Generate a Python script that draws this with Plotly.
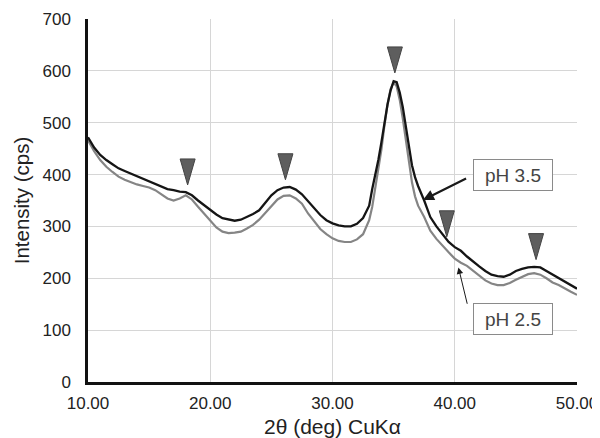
import plotly.graph_objects as go

# 2theta (deg) and intensity (cps)
two_theta = [10.0, 10.5, 11.0, 11.5, 12.0, 12.5, 13.0, 13.5, 14.0, 14.5,
             15.0, 15.5, 16.0, 16.5, 17.0, 17.5, 18.0, 18.5, 19.0, 19.5,
             20.0, 20.5, 21.0, 21.5, 22.0, 22.5, 23.0, 23.5, 24.0, 24.5,
             25.0, 25.5, 26.0, 26.5, 27.0, 27.5, 28.0, 28.5, 29.0, 29.5,
             30.0, 30.5, 31.0, 31.5, 32.0, 32.5, 33.0, 33.25, 33.5, 33.75,
             34.0, 34.25, 34.5, 34.75, 35.0, 35.25, 35.5, 35.75, 36.0, 36.25,
             36.5, 36.75, 37.0, 37.5, 38.0, 38.5, 39.0, 39.5, 40.0, 40.5,
             41.0, 41.5, 42.0, 42.5, 43.0, 43.5, 44.0, 44.5, 45.0, 45.5,
             46.0, 46.5, 47.0, 47.5, 48.0, 48.5, 49.0, 49.5, 50.0]

ph35 = [472, 452, 438, 428, 420, 412, 407, 402, 397, 392,
        387, 383, 377, 372, 370, 367, 366, 360, 350, 341,
        332, 323, 316, 313, 311, 313, 318, 324, 331, 345,
        360, 370, 375, 376, 371, 362, 348, 335, 322, 312,
        306, 302, 300, 300, 305, 316, 340, 372, 398, 428,
        462, 503, 535, 562, 580, 578, 558, 530, 493, 450,
        418, 395, 378, 350, 318, 300, 285, 270, 260, 253,
        242, 232, 223, 214, 207, 204, 203, 207, 214, 218,
        221, 222, 221, 214, 207, 201, 194, 187, 180]

ph25 = [466, 445, 428, 415, 405, 396, 390, 385, 381, 378,
        375, 370, 362, 354, 350, 354, 360, 352, 338, 325,
        310, 298, 290, 287, 288, 290, 296, 303, 313, 326,
        340, 352, 359, 360, 354, 344, 325, 310, 295, 285,
        277, 272, 270, 270, 275, 285, 312, 338, 372, 410,
        448, 495, 535, 565, 578, 570, 544, 508, 465, 420,
        385, 358, 340, 318, 292, 276, 262, 250, 238, 230,
        224, 215, 205, 196, 190, 187, 187, 191, 197, 203,
        208, 210, 207, 200, 192, 187, 180, 174, 168]

# peak markers (tip position)
peak_x = [18.15, 26.15, 35.1, 39.35, 46.65]
peak_y = [380, 390, 596, 280, 236]

# label boxes: text, box centre, arrow tail, arrow head
labels = ["pH 3.5", "pH 2.5"]
label_x = [44.8, 44.8]
label_y = [399, 121]
tail_x = [41.05, 41.05]
tail_y = [394, 148]
head_x = [37.4, 40.3]
head_y = [351, 221]

x_ticks = [10, 20, 30, 40, 50]

fig = go.Figure()
fig.add_trace(go.Scatter(x=two_theta, y=ph25, mode="lines", name="pH 2.5",
                         line=dict(color="#858585", width=2.2)))
fig.add_trace(go.Scatter(x=two_theta, y=ph35, mode="lines", name="pH 3.5",
                         line=dict(color="#151515", width=2.3)))

# downward triangles above the peaks
for px_, py_ in zip(peak_x, peak_y):
    fig.add_shape(type="path", xref="x", yref="y",
                  xsizemode="pixel", ysizemode="pixel",
                  xanchor=px_, yanchor=py_,
                  path="M-7.5,26 L7.5,26 L0,0 Z",
                  fillcolor="#5e5e5e", line=dict(color="#444444", width=1))

# arrows (thick for pH 3.5, thin for pH 2.5), then boxes on top
arrow_w = [2.2, 1]
arrow_s = [1, 1.3]
for i in range(2):
    fig.add_annotation(x=head_x[i], y=head_y[i], ax=tail_x[i], ay=tail_y[i],
                       axref="x", ayref="y", text="", showarrow=True,
                       arrowhead=2, arrowsize=arrow_s[i], arrowwidth=arrow_w[i],
                       arrowcolor="#1a1a1a")
    fig.add_annotation(x=label_x[i], y=label_y[i], text=labels[i],
                       showarrow=False,
                       font=dict(size=19, color="#444444"),
                       width=70, height=22,
                       bgcolor="white", bordercolor="#8a8a8a", borderwidth=1,
                       borderpad=4)

# page body adds an 8px offset, so the figure is 8px smaller than the window
fig.update_layout(
    width=592, height=430,
    margin=dict(l=80, r=23, t=11, b=56),
    plot_bgcolor="white", paper_bgcolor="white",
    showlegend=False,
    font=dict(family="Liberation Sans, Arial, sans-serif", color="#222222"),
)
fig.update_xaxes(range=[10, 50], tickvals=x_ticks, tickformat=".2f",
                 showgrid=True, gridcolor="#d6d6d6", gridwidth=1,
                 showline=True, linecolor="#111111", linewidth=2.5,
                 zeroline=False, ticks="", ticklabelstandoff=4,
                 tickfont=dict(size=17), automargin=False,
                 title=dict(text="2θ (deg) CuKα", font=dict(size=21), standoff=15))
fig.update_yaxes(range=[0, 700], dtick=100,
                 showgrid=True, gridcolor="#d6d6d6", gridwidth=1,
                 showline=True, linecolor="#111111", linewidth=2.5,
                 zeroline=False, ticks="", ticklabelstandoff=11,
                 tickfont=dict(size=17), automargin=False,
                 title=dict(text="Intensity (cps)", font=dict(size=20.5), standoff=8))

fig.write_html("out.html")
